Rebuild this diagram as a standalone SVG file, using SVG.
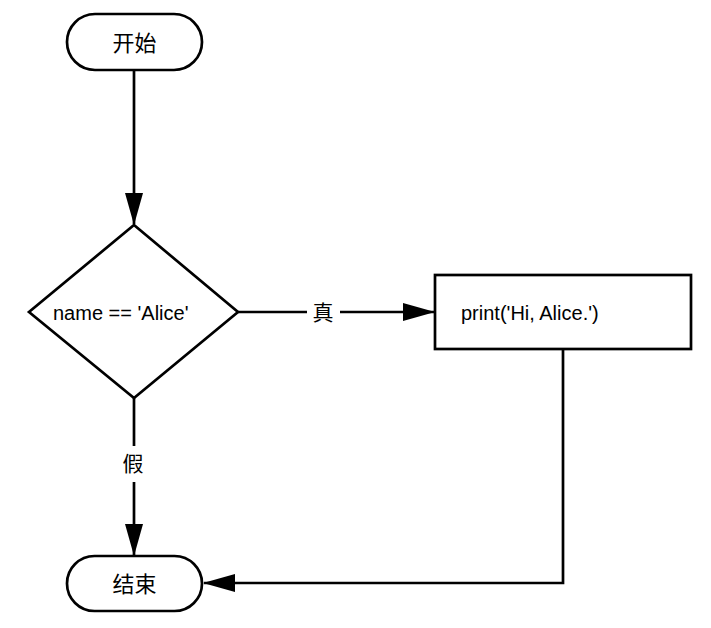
<svg xmlns="http://www.w3.org/2000/svg" width="711" height="628" viewBox="0 0 711 628">
  <style>
    .shape { fill: #ffffff; stroke: #000000; stroke-width: 2.7; }
    .edge { fill: none; stroke: #000000; stroke-width: 2.7; }
    .txt { font-family: "Liberation Sans", "Noto Sans CJK SC", sans-serif; font-size: 20px; fill: #000000; }
    .cjk { font-family: "Noto Sans CJK SC", sans-serif; font-size: 22px; fill: #000000; }
    .lbl { font-family: "Noto Sans CJK SC", sans-serif; font-size: 21px; fill: #000000; }
  </style>
  <defs>
    <marker id="arrowL" markerWidth="32" markerHeight="18" refX="31" refY="9" orient="auto" markerUnits="userSpaceOnUse" viewBox="0 0 32 18">
      <path d="M0,0 L32,9 L0,18 Z" fill="#000000"/>
    </marker>
  </defs>

  <g id="connectors">
    <path class="edge" d="M134,70 L134,224" marker-end="url(#arrowL)"/>
    <path class="edge" d="M238,312 L307,312"/>
    <path class="edge" d="M340,312 L434,312" marker-end="url(#arrowL)"/>
    <path class="edge" d="M134,398 L134,446"/>
    <path class="edge" d="M134,482 L134,555" marker-end="url(#arrowL)"/>
    <path class="edge" d="M563,349 L563,583 L204,583" marker-end="url(#arrowL)"/>
    <text class="lbl" x="323" y="320" text-anchor="middle">真</text>
    <text class="lbl" x="133" y="471" text-anchor="middle">假</text>
  </g>

  <g id="start">
    <rect class="shape" x="67" y="14" width="135" height="56" rx="28" ry="28"/>
    <text class="cjk" x="134.5" y="51" text-anchor="middle">开始</text>
  </g>

  <g id="decision">
    <polygon class="shape" points="134,225 238,312 134,398 29,312"/>
    <text class="txt" x="53" y="320">name == 'Alice'</text>
  </g>

  <g id="print">
    <rect class="shape" x="435" y="275" width="256" height="74"/>
    <text class="txt" x="461" y="320">print('Hi, Alice.')</text>
  </g>

  <g id="end">
    <rect class="shape" x="67" y="556" width="135" height="55" rx="27.5" ry="27.5"/>
    <text class="cjk" x="134.5" y="592" text-anchor="middle">结束</text>
  </g>
</svg>
